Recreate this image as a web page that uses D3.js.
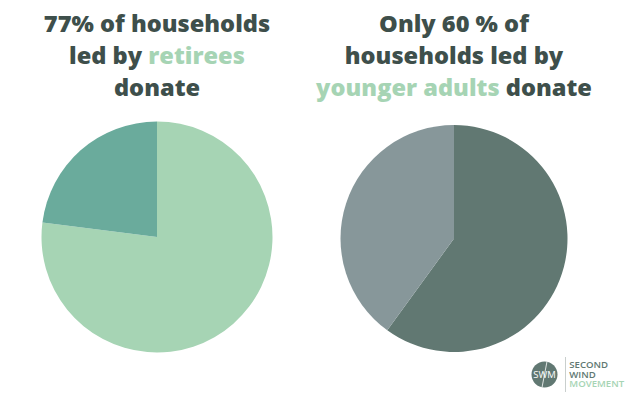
<!DOCTYPE html>
<html>
<head>
<meta charset="utf-8">
<script src="https://cdn.jsdelivr.net/npm/d3@7"></script>
<style>
  html, body { margin: 0; padding: 0; background: #ffffff; }
  svg { display: block; }
</style>
</head>
<body>
<svg id="chart" width="640" height="401"></svg>
<script>
// ---- data ----
const pieNames = ["retirees", "younger adults"];
const sliceLabels = ["donate", "do not donate"];
const retireeValues = [77, 23];
const youngerValues = [60, 40];
const retireeColors = ["#a6d4b4", "#6aab9c"];
const youngerColors = ["#617872", "#87979a"];
const titleLeft = [
  [["77% of households", "dark"]],
  [["led by ", "dark"], ["retirees", "green"]],
  [["donate", "dark"]]
];
const titleRight = [
  [["Only 60 % of", "dark"]],
  [["households led by", "dark"]],
  [["younger adults", "green"], [" donate", "dark"]]
];
const logoLines = [["SECOND", "dark"], ["WIND", "dark"], ["MOVEMENT", "green"]];

// ---- drawing ----
const svg = d3.select("#chart");
const textColors = { dark: "#3e4f4b", green: "#a6d4b4" };

const pie = d3.pie().sort(null).value(d => d);

function drawPie(values, colors, cx, cy, r) {
  const arc = d3.arc().innerRadius(0).outerRadius(r);
  const g = svg.append("g").attr("transform", `translate(${cx},${cy})`);
  g.selectAll("path")
    .data(pie(values))
    .join("path")
    .attr("d", arc)
    .attr("fill", (d, i) => colors[i]);
}

drawPie(retireeValues, retireeColors, 157, 237, 115.5);
drawPie(youngerValues, youngerColors, 454, 238.5, 113.5);

function drawTitle(lines, cx, baselines) {
  const t = svg.append("text")
    .attr("text-anchor", "middle")
    .attr("font-family", "'Open Sans', sans-serif")
    .attr("font-weight", 800)
    .attr("font-size", 23.6)
    .attr("xml:space", "preserve");
  lines.forEach((parts, li) => {
    parts.forEach((p, pi) => {
      const ts = t.append("tspan").text(p[0]).attr("fill", textColors[p[1]]);
      if (pi === 0) ts.attr("x", cx).attr("y", baselines[li]);
    });
  });
}

drawTitle(titleLeft, 157, [32, 64, 96]);
drawTitle(titleRight, 454, [32, 64, 96]);

// logo
const logo = svg.append("g");
logo.append("circle").attr("cx", 544.5).attr("cy", 374.5).attr("r", 13).attr("fill", "#617872");
logo.append("text").attr("x", 544.5).attr("y", 378)
  .attr("text-anchor", "middle").attr("fill", "#ffffff")
  .attr("font-family", "'Open Sans', sans-serif").attr("font-size", 9.5)
  .text("SWM");
logo.append("line").attr("x1", 547).attr("y1", 361.5).attr("x2", 542).attr("y2", 387.5)
  .attr("stroke", "#ffffff").attr("stroke-width", 0.8);
logo.append("line").attr("x1", 565.5).attr("y1", 357).attr("x2", 565.5).attr("y2", 392)
  .attr("stroke", "#c9cfcd").attr("stroke-width", 1);
const lt = logo.append("text")
  .attr("font-family", "'Open Sans', sans-serif")
  .attr("font-weight", 600)
  .attr("font-size", 9.6);
lt.selectAll("tspan")
  .data(logoLines)
  .join("tspan")
  .attr("x", 569.3)
  .attr("y", (d, i) => 368.3 + i * 9.3)
  .attr("fill", d => d[1] === "green" ? "#a6d4b4" : "#617872")
  .text(d => d[0]);
</script>
</body>
</html>
